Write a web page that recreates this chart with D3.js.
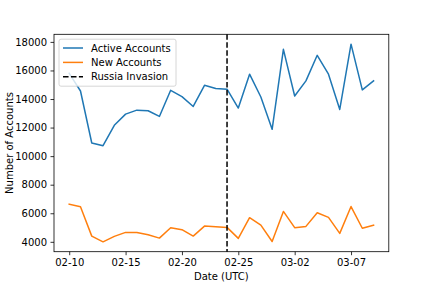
<!DOCTYPE html>
<html>
<head>
<meta charset="utf-8">
<script src="https://cdn.jsdelivr.net/npm/d3@7"></script>
<style>
  html, body { margin: 0; padding: 0; background: #fff; }
  svg { display: block; font-family: "DejaVu Sans", sans-serif; }
</style>
</head>
<body>
<svg id="chart" width="432" height="288"></svg>
<script>
// ---- data ----
const dates = [
  "2022-02-10","2022-02-11","2022-02-12","2022-02-13","2022-02-14","2022-02-15","2022-02-16",
  "2022-02-17","2022-02-18","2022-02-19","2022-02-20","2022-02-21","2022-02-22","2022-02-23",
  "2022-02-24","2022-02-25","2022-02-26","2022-02-27","2022-02-28","2022-03-01","2022-03-02",
  "2022-03-03","2022-03-04","2022-03-05","2022-03-06","2022-03-07","2022-03-08","2022-03-09"
];
const activeAccounts = [
  15800, 14560, 10920, 10730, 12160, 12940, 13220, 13180, 12780, 14610, 14170, 13480, 14960, 14730,
  14690, 13370, 15740, 14140, 11880, 17480, 14210, 15270, 17060, 15740, 13270, 17840, 14640, 15270
];
const newAccounts = [
  6630, 6450, 4400, 4000, 4380, 4660, 4660, 4490, 4260, 4990, 4850, 4400, 5100, 5060,
  5010, 4240, 5690, 5170, 4020, 6130, 4990, 5080, 6040, 5710, 4590, 6470, 4950, 5170
];
const invasionDate = "2022-02-24";
const xTickLabels = ["2022-02-10","2022-02-15","2022-02-20","2022-02-25","2022-03-02","2022-03-07"];
const yTickValues = [4000, 6000, 8000, 10000, 12000, 14000, 16000, 18000];
const seriesNames = ["Active Accounts", "New Accounts", "Russia Invasion"];
const xLabel = "Date (UTC)";
const yLabel = "Number of Accounts";

// ---- layout ----
const svg = d3.select("#chart");
const pL = 54, pR = 388.8, pT = 34.3, pB = 251.7;
const parse = d3.utcParse("%Y-%m-%d");
const xs = dates.map(parse);

const x0 = d3.min(xs), x1 = d3.max(xs);
const xpad = (x1 - x0) * 0.05;
const x = d3.scaleUtc()
  .domain([new Date(+x0 - xpad), new Date(+x1 + xpad)])
  .range([pL, pR]);

const allVals = activeAccounts.concat(newAccounts);
const ymin = d3.min(allVals), ymax = d3.max(allVals);
const ypad = (ymax - ymin) * 0.05;
const y = d3.scaleLinear()
  .domain([ymin - ypad, ymax + ypad])
  .range([pB, pT]);

// lines
const line = d3.line().x((d, i) => x(xs[i])).y(d => y(d));
svg.append("path").datum(activeAccounts)
  .attr("d", line).attr("fill", "none")
  .attr("stroke", "#1f77b4").attr("stroke-width", 1.5)
  .attr("stroke-linejoin", "round").attr("stroke-linecap", "square");
svg.append("path").datum(newAccounts)
  .attr("d", line).attr("fill", "none")
  .attr("stroke", "#ff7f0e").attr("stroke-width", 1.5)
  .attr("stroke-linejoin", "round").attr("stroke-linecap", "square");

// invasion line
const xi = x(parse(invasionDate));
svg.append("line")
  .attr("x1", xi).attr("x2", xi).attr("y1", pT).attr("y2", pB)
  .attr("stroke", "#000").attr("stroke-width", 1.5)
  .attr("stroke-dasharray", "5.55,2.4");

// axes
const xAxis = d3.axisBottom(x)
  .tickValues(xTickLabels.map(parse))
  .tickFormat(d3.utcFormat("%m-%d"))
  .tickSizeOuter(0).tickSize(3.5).tickPadding(3.5);
const gx = svg.append("g").attr("transform", `translate(0,${pB})`).call(xAxis);
const yAxis = d3.axisLeft(y)
  .tickValues(yTickValues)
  .tickFormat(d3.format("d"))
  .tickSizeOuter(0).tickSize(3.5).tickPadding(3.5);
const gy = svg.append("g").attr("transform", `translate(${pL},0)`).call(yAxis);
[gx, gy].forEach(g => {
  g.select(".domain").remove();
  g.selectAll(".tick line").attr("stroke", "#000").attr("stroke-width", 0.8);
  g.selectAll(".tick text").attr("fill", "#000")
    .style("font-size", "10px").style("font-family", "DejaVu Sans, sans-serif");
});

// spines
svg.append("rect")
  .attr("x", pL).attr("y", pT)
  .attr("width", pR - pL).attr("height", pB - pT)
  .attr("fill", "none").attr("stroke", "#000").attr("stroke-width", 0.8);

// labels
svg.append("text")
  .attr("x", (pL + pR) / 2).attr("y", 280)
  .attr("text-anchor", "middle").style("font-size", "10px")
  .text(xLabel);
svg.append("text")
  .attr("transform", `translate(12.5,${(pT + pB) / 2}) rotate(-90)`)
  .attr("text-anchor", "middle").style("font-size", "10px")
  .text(yLabel);

// legend
const lg = svg.append("g");
lg.append("rect")
  .attr("x", 59).attr("y", 39.2).attr("width", 117).attr("height", 47)
  .attr("rx", 2).attr("fill", "#fff").attr("fill-opacity", 0.8)
  .attr("stroke", "#cccccc").attr("stroke-width", 0.8);
const legendColors = ["#1f77b4", "#ff7f0e", "#000"];
const legendDash = [null, null, "5.55,2.4"];
seriesNames.forEach((name, i) => {
  const yy = 48 + i * 14.4;
  lg.append("line")
    .attr("x1", 63).attr("x2", 83).attr("y1", yy).attr("y2", yy)
    .attr("stroke", legendColors[i]).attr("stroke-width", 1.5)
    .attr("stroke-dasharray", legendDash[i]);
  lg.append("text")
    .attr("x", 91).attr("y", yy + 3.6)
    .style("font-size", "10px").text(name);
});
</script>
</body>
</html>
